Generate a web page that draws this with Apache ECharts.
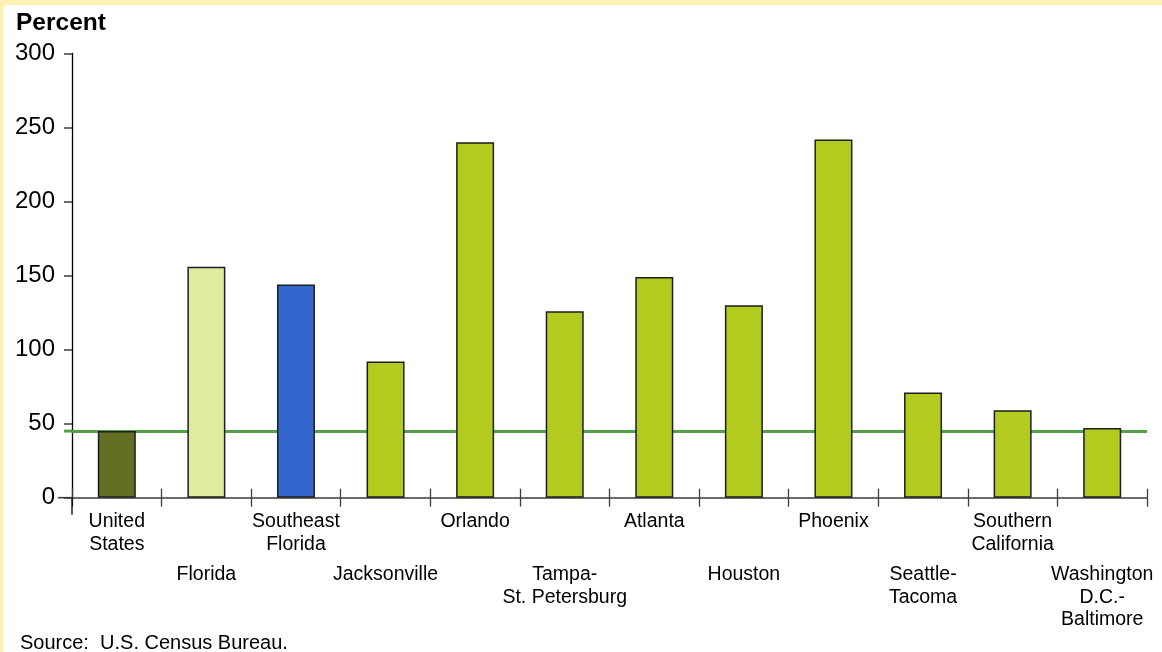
<!DOCTYPE html>
<html>
<head>
<meta charset="utf-8">
<script src="https://cdn.jsdelivr.net/npm/echarts@6/dist/echarts.min.js"></script>
<style>
  html, body { margin: 0; padding: 0; background: #ffffff; }
  #chart { width: 1162px; height: 652px; }
</style>
</head>
<body>
<div id="chart"></div>
<script>
// Population growth by metro area, percent
const categories = [
  'United\nStates', 'Florida', 'Southeast\nFlorida', 'Jacksonville', 'Orlando',
  'Tampa-\nSt. Petersburg', 'Atlanta', 'Houston', 'Phoenix', 'Seattle-\nTacoma',
  'Southern\nCalifornia', 'Washington\nD.C.-\nBaltimore'
];
const values = [45, 156, 144, 92, 240, 126, 149, 130, 242, 71, 59, 47];
const yTicks = [0, 50, 100, 150, 200, 250, 300];
const yAxisTitle = 'Percent';
const sourceNote = 'Source:  U.S. Census Bureau.';

// The national figure is also drawn as a reference line across the chart
const nationalValue = values[0];

const barColors = ['#646f24', '#dfeb9e', '#3366cc'];
const defaultBarColor = '#b3ca1f';
const FONT = '"Liberation Sans", Arial, sans-serif';

const chart = echarts.init(document.getElementById('chart'), null, { renderer: 'canvas' });

const labelBase = { color: '#000', fontFamily: FONT, fontSize: 19.5, lineHeight: 22.5, interval: 0 };

function staticGraphics() {
  return [
    { type: 'rect', shape: { x: 0, y: 0, width: 1162, height: 5 }, style: { fill: '#fff0b4' }, z: 10 },
    { type: 'rect', shape: { x: 0, y: 0, width: 3.5, height: 652 }, style: { fill: '#fff0b4' }, z: 10 },
    {
      type: 'text', left: 16, top: 11, z: 10,
      style: { text: yAxisTitle, font: 'bold 24.5px ' + FONT, fill: '#000' }
    },
    {
      type: 'text', left: 20, top: 633, z: 10,
      style: { text: sourceNote, font: '20px ' + FONT, fill: '#000' }
    }
  ];
}

const option = {
  animation: false,
  backgroundColor: '#ffffff',
  grid: { left: 72, right: 15, top: 53.5, bottom: 154.3, containLabel: false },
  xAxis: [
    {
      type: 'category',
      position: 'bottom',
      data: categories,
      axisLine: { show: true, lineStyle: { color: '#3c3c3c', width: 1.6 } },
      axisTick: { show: true, inside: false, length: 9, lineStyle: { color: '#3c3c3c', width: 1.3 } },
      axisLabel: Object.assign({}, labelBase, {
        margin: 13,
        formatter: (v, i) => (i % 2 === 0 ? v : '')
      }),
      splitLine: { show: false }
    },
    {
      type: 'category',
      position: 'bottom',
      data: categories,
      axisLine: { show: false },
      axisTick: { show: true, inside: true, length: 9, lineStyle: { color: '#3c3c3c', width: 1.3 } },
      axisLabel: Object.assign({}, labelBase, {
        margin: 66,
        formatter: (v, i) => (i % 2 === 1 ? v : '')
      }),
      splitLine: { show: false }
    }
  ],
  yAxis: {
    type: 'value',
    min: yTicks[0],
    max: yTicks[yTicks.length - 1],
    interval: yTicks[1] - yTicks[0],
    axisLine: { show: true, lineStyle: { color: '#000', width: 1.3 } },
    axisTick: { show: true, inside: false, length: 8, lineStyle: { color: '#3c3c3c', width: 1.5 } },
    axisLabel: { color: '#000', fontFamily: FONT, fontSize: 24, margin: 17 },
    splitLine: { show: false }
  },
  series: [
    {
      // reference line at the national value, kept behind the bars
      type: 'line',
      data: [],
      z: 1,
      silent: true,
      markLine: {
        z: 1,
        symbol: ['none', 'none'],
        silent: true,
        label: { show: false },
        lineStyle: { color: '#55a04a', width: 3, type: 'solid' },
        data: [{ yAxis: nationalValue }]
      }
    },
    {
      type: 'bar',
      xAxisIndex: 0,
      z: 3,
      barWidth: 38,
      data: values,
      itemStyle: {
        color: (p) => barColors[p.dataIndex] || defaultBarColor,
        borderColor: '#1e1e1e',
        borderWidth: 1.5
      }
    }
  ],
  graphic: staticGraphics()
};

chart.setOption(option);

// Extend the axis lines past their crossing point, as in the printed figure
const gridRect = chart.getModel().getComponent('grid', 0).coordinateSystem.getRect();
const axisX = gridRect.x;
const axisY = gridRect.y + gridRect.height;
const refY = chart.convertToPixel({ yAxisIndex: 0 }, nationalValue);

chart.setOption({
  graphic: staticGraphics().concat([
    {
      type: 'line', z: 5,
      shape: { x1: axisX, y1: axisY, x2: axisX, y2: axisY + 17 },
      style: { stroke: '#000', lineWidth: 1.3 }
    },
    {
      type: 'line', z: 5,
      shape: { x1: axisX - 14, y1: axisY, x2: axisX, y2: axisY },
      style: { stroke: '#3c3c3c', lineWidth: 1.6 }
    },
    {
      type: 'line', z: 0,
      shape: { x1: axisX - 8, y1: refY, x2: axisX, y2: refY },
      style: { stroke: '#55a04a', lineWidth: 3 }
    }
  ])
});
</script>
</body>
</html>
